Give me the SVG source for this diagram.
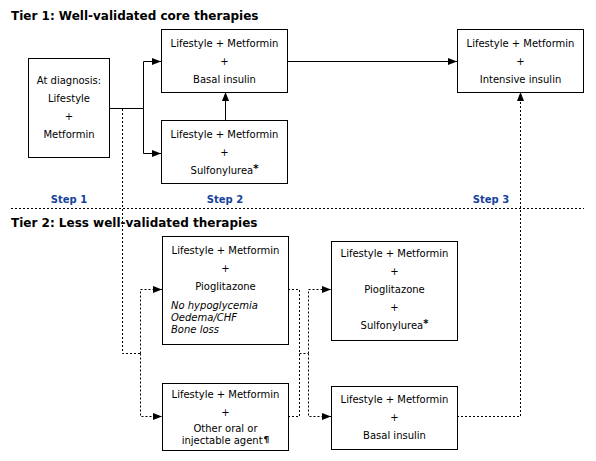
<svg xmlns="http://www.w3.org/2000/svg" width="596" height="461" viewBox="0 0 596 461">
<defs>
<marker id="ah" markerUnits="userSpaceOnUse" markerWidth="9" markerHeight="7" refX="9" refY="3.5" orient="auto"><path d="M0,0 L9,3.5 L0,7 z" fill="#000"/></marker>
<style>
.box{fill:#fff;stroke:#000;stroke-width:1}
.t{font-family:"DejaVu Sans",Verdana,sans-serif;font-size:10px;fill:#000;text-anchor:middle}
.it{font-family:"DejaVu Sans",Verdana,sans-serif;font-size:10px;font-style:italic;fill:#000}
.h{font-family:"DejaVu Sans",Verdana,sans-serif;font-size:12px;font-weight:bold;fill:#000}
.step{font-family:"DejaVu Sans",Verdana,sans-serif;font-size:10px;font-weight:bold;fill:#15439c;text-anchor:middle}
.sol{fill:none;stroke:#000;stroke-width:1}
.dot{fill:none;stroke:#000;stroke-width:1;stroke-dasharray:2,2}
.arr{marker-end:url(#ah)}
.sup{font-size:10px;font-weight:bold}
</style>
</defs>
<text class="h" x="11" y="20">Tier 1: Well-validated core therapies</text>
<text class="h" x="11" y="227">Tier 2: Less well-validated therapies</text>
<text class="step" x="69" y="203">Step 1</text>
<text class="step" x="225" y="203">Step 2</text>
<text class="step" x="491" y="203">Step 3</text>
<g id="connectors">
<path class="dot" d="M11,208.5 H584"/>
<path class="sol arr" d="M109,108.5 H143.5 V61.5 H161"/>
<path class="sol arr" d="M143.5,108.5 V153.5 H161"/>
<path class="sol arr" d="M225.5,120 V92"/>
<path class="sol arr" d="M287,61.5 H457"/>
<path class="dot" d="M122.5,109 V353.5 H141"/>
<path class="dot arr" d="M140.5,353.5 V289.5 H162"/>
<path class="dot arr" d="M140.5,353.5 V416.5 H162"/>
<path class="dot" d="M288,289.5 H299.5 V416.5 H288"/>
<path class="dot" d="M299.5,353.5 H308"/>
<path class="dot arr" d="M308.5,353.5 V289.5 H331"/>
<path class="dot arr" d="M308.5,353.5 V416.5 H331"/>
<path class="dot arr" d="M457,416.5 H520.5 V92"/>
</g>
<g id="n-diagnosis">
<rect class="box" x="28.5" y="58.5" width="81" height="99"/>
<text class="t" x="69" y="84">At diagnosis:</text>
<text class="t" x="69" y="102">Lifestyle</text>
<text class="t" x="69" y="120">+</text>
<text class="t" x="69" y="138">Metformin</text>
</g>
<g id="n-basal1">
<rect class="box" x="161.5" y="29.5" width="126" height="63"/>
<text class="t" x="224.5" y="47">Lifestyle + Metformin</text>
<text class="t" x="224.5" y="65">+</text>
<text class="t" x="224.5" y="83">Basal insulin</text>
</g>
<g id="n-su1">
<rect class="box" x="161.5" y="120.5" width="126" height="63"/>
<text class="t" x="224.5" y="138">Lifestyle + Metformin</text>
<text class="t" x="224.5" y="156">+</text>
<text class="t" x="224.5" y="174">Sulfonylurea<tspan class="sup" dy="-2">*</tspan></text>
</g>
<g id="n-intensive">
<rect class="box" x="457.5" y="29.5" width="126" height="63"/>
<text class="t" x="520.5" y="47">Lifestyle + Metformin</text>
<text class="t" x="520.5" y="65">+</text>
<text class="t" x="520.5" y="83">Intensive insulin</text>
</g>
<g id="n-pio">
<rect class="box" x="162.5" y="236.5" width="126" height="108"/>
<text class="t" x="225.5" y="254">Lifestyle + Metformin</text>
<text class="t" x="225.5" y="272">+</text>
<text class="t" x="225.5" y="290">Pioglitazone</text>
<text class="it" x="171" y="309">No hypoglycemia</text>
<text class="it" x="171" y="321">Oedema/CHF</text>
<text class="it" x="171" y="333">Bone loss</text>
</g>
<g id="n-other">
<rect class="box" x="162.5" y="383.5" width="126" height="67"/>
<text class="t" x="225.5" y="398">Lifestyle + Metformin</text>
<text class="t" x="225.5" y="416">+</text>
<text class="t" x="225.5" y="432">Other oral or</text>
<text class="t" x="225.5" y="444">injectable agent<tspan font-weight="bold" font-size="9" dx="1" dy="-1">¶</tspan></text>
</g>
<g id="n-piosu">
<rect class="box" x="331.5" y="241.5" width="126" height="99"/>
<text class="t" x="394.5" y="257">Lifestyle + Metformin</text>
<text class="t" x="394.5" y="275">+</text>
<text class="t" x="394.5" y="293">Pioglitazone</text>
<text class="t" x="394.5" y="311">+</text>
<text class="t" x="394.5" y="329">Sulfonylurea<tspan class="sup" dy="-2">*</tspan></text>
</g>
<g id="n-basal2">
<rect class="box" x="331.5" y="386.5" width="126" height="63"/>
<text class="t" x="394.5" y="403">Lifestyle + Metformin</text>
<text class="t" x="394.5" y="421">+</text>
<text class="t" x="394.5" y="439">Basal insulin</text>
</g>
</svg>
